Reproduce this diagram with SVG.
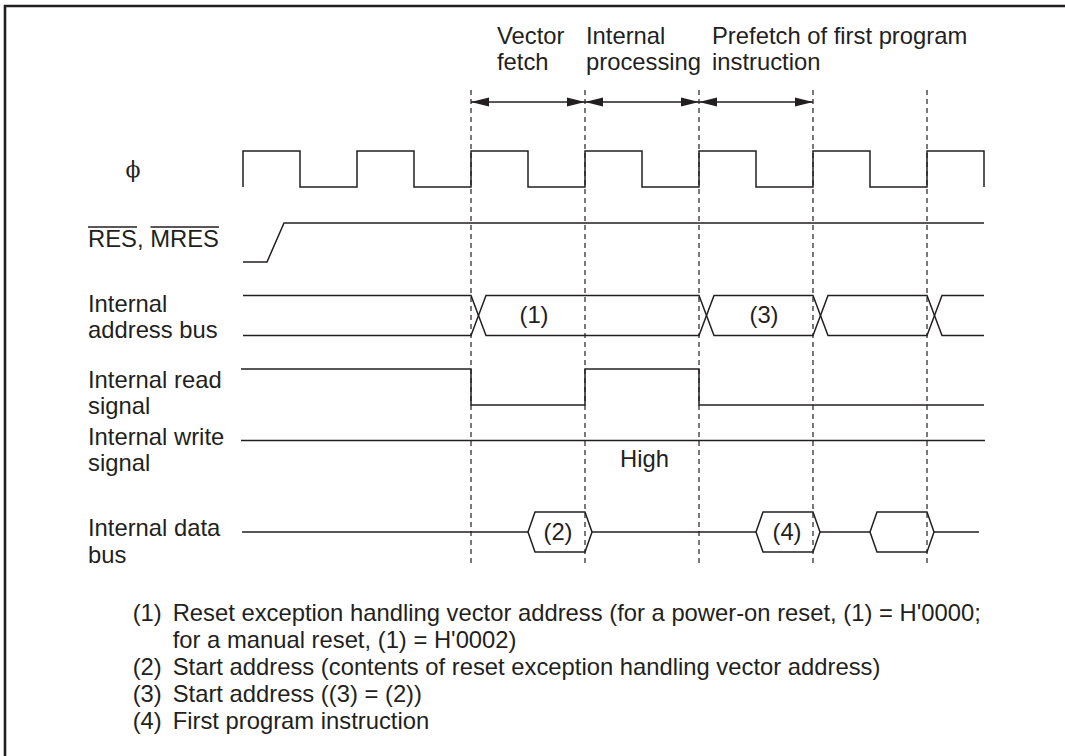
<svg xmlns="http://www.w3.org/2000/svg" width="1065" height="756" viewBox="0 0 1065 756">
<defs>
<style>
.t{font-family:"Liberation Sans",Arial,Helvetica,sans-serif;font-size:23.8px;fill:#231f20}
.m{text-anchor:middle}
.sig{fill:none;stroke:#231f20;stroke-width:1.5;stroke-linejoin:miter}
.dash{fill:none;stroke:#231f20;stroke-width:1.2;stroke-dasharray:5 4}
.arr{fill:none;stroke:#231f20;stroke-width:1.3;marker-start:url(#ah);marker-end:url(#ah)}
</style>
<marker id="ah" markerUnits="userSpaceOnUse" markerWidth="18" markerHeight="10" refX="18" refY="5" orient="auto-start-reverse"><path d="M0,0.5 L18,5 L0,9.5 z" fill="#231f20"/></marker>
</defs>
<rect width="1065" height="756" fill="#fff"/>
<path id="frame" d="M5,760 V6 H1070" fill="none" stroke="#231f20" stroke-width="2.6"/>

<g id="phase-labels" class="t">
<text x="497" y="44">Vector</text><text x="497" y="70">fetch</text>
<text x="586" y="44">Internal</text><text x="586" y="70">processing</text>
<text x="712" y="44">Prefetch of first program</text><text x="712" y="70">instruction</text>
</g>

<g id="guides">
<line class="dash" x1="471" y1="90" x2="471" y2="564"/>
<line class="dash" x1="585" y1="90" x2="585" y2="564"/>
<line class="dash" x1="699" y1="90" x2="699" y2="564"/>
<line class="dash" x1="813" y1="90" x2="813" y2="564"/>
<line class="dash" x1="927" y1="90" x2="927" y2="564"/>
</g>

<g id="connectors">
<line class="arr" x1="471" y1="102" x2="585" y2="102"/>
<line class="arr" x1="585" y1="102" x2="699" y2="102"/>
<line class="arr" x1="699" y1="102" x2="813" y2="102"/>
</g>

<g id="clock">
<text x="133" y="177" text-anchor="middle" style="font-family:'DejaVu Serif','Liberation Serif',serif;font-size:22px;fill:#231f20">ϕ</text>
<path class="sig" d="M243,187 V151 H300 V187 H357 V151 H414 V187 H471 V151 H528 V187 H585 V151 H642 V187 H699 V151 H756 V187 H813 V151 H870 V187 H927 V151 H984 V187"/>
</g>

<g id="reset">
<text class="t" x="88" y="247">RES, MRES</text>
<line x1="88" y1="227" x2="137" y2="227" stroke="#231f20" stroke-width="1.4"/>
<line x1="150.5" y1="227" x2="219" y2="227" stroke="#231f20" stroke-width="1.4"/>
<path class="sig" d="M243,262 H267 L284,223 H984"/>
</g>

<g id="address-bus">
<text class="t" x="88" y="312">Internal</text>
<text class="t" x="88" y="338">address bus</text>
<path class="sig" d="M243,295.5 H471 L486,335.5 H699 L714,295.5 H813 L828,335.5 H927 L942,295.5 H984"/>
<path class="sig" d="M243,335.5 H471 L486,295.5 H699 L714,335.5 H813 L828,295.5 H927 L942,335.5 H984"/>
<text class="t m" x="534" y="323">(1)</text>
<text class="t m" x="764" y="323">(3)</text>
</g>

<g id="read-signal">
<text class="t" x="88" y="388">Internal read</text>
<text class="t" x="88" y="414">signal</text>
<path class="sig" d="M241,369 H471 V405 H585 V369 H699 V405 H984"/>
</g>

<g id="write-signal">
<text class="t" x="88" y="445">Internal write</text>
<text class="t" x="88" y="471">signal</text>
<path class="sig" d="M241,440.5 H985"/>
<text class="t" x="620" y="467">High</text>
</g>

<g id="data-bus">
<text class="t" x="88" y="536">Internal data</text>
<text class="t" x="88" y="563">bus</text>
<path class="sig" d="M242,532 H528 M592,532 H756 M820,532 H870 M934,532 H979"/>
<polygon class="sig" points="528,532 535,512 585,512 592,532 585,552 535,552"/>
<polygon class="sig" points="756,532 763,512 813,512 820,532 813,552 763,552"/>
<polygon class="sig" points="870,532 877,512 927,512 934,532 927,552 877,552"/>
<text class="t m" x="558" y="540">(2)</text>
<text class="t m" x="787" y="540">(4)</text>
</g>

<g id="notes" class="t">
<text x="132.7" y="621">(1)</text><text x="172.7" y="621">Reset exception handling vector address (for a power-on reset, (1) = H'0000;</text>
<text x="172.7" y="648">for a manual reset, (1) = H'0002)</text>
<text x="132.7" y="675">(2)</text><text x="172.7" y="675">Start address (contents of reset exception handling vector address)</text>
<text x="132.7" y="702">(3)</text><text x="172.7" y="702">Start address ((3) = (2))</text>
<text x="132.7" y="729">(4)</text><text x="172.7" y="729">First program instruction</text>
</g>
</svg>
